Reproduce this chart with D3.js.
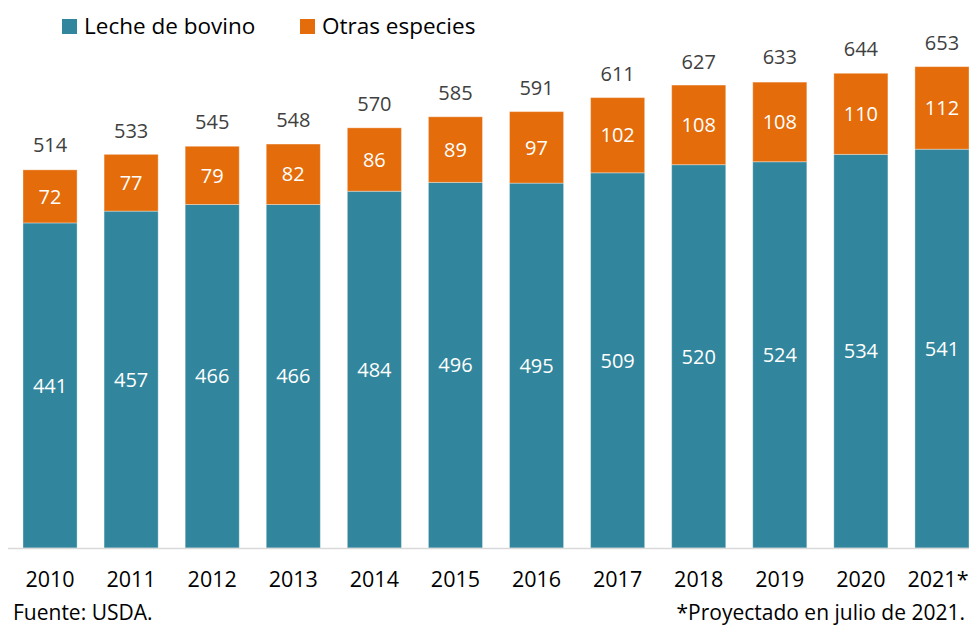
<!DOCTYPE html>
<html><head><meta charset="utf-8">
<script src="https://cdn.jsdelivr.net/npm/d3@7"></script>
<style>body{margin:0;background:#fff}svg{display:block;font-family:"Open Sans",sans-serif}</style>
</head><body>
<svg id="c" width="969" height="627"></svg>
<script>
const years = ["2010","2011","2012","2013","2014","2015","2016","2017","2018","2019","2020","2021*"];
const bovino = [441,457,466,466,484,496,495,509,520,524,534,541];
const otras = [72,77,79,82,86,89,97,102,108,108,110,112];
const totals = [514,533,545,548,570,585,591,611,627,633,644,653];
const seriesNames = ["Leche de bovino","Otras especies"];
const colors = ["#31859C","#E46C0A"];

const svg = d3.select("#c");
const x = d3.scaleBand().domain(years).range([9.5,982.5]).paddingInner(0.333).paddingOuter(0.1665);
const y = d3.scaleLinear().domain([0,700]).range([548,32]);

const data = years.map((yr,i)=>({year:yr,bov:bovino[i],otr:otras[i],tot:totals[i]}));
const stack = d3.stack().keys(["bov","otr"])(data);

stack.forEach((s,si)=>{
  svg.append("g").selectAll("rect").data(s).join("rect")
    .attr("x",d=>x(d.data.year)).attr("width",x.bandwidth())
    .attr("y",d=>y(d[1])).attr("height",d=>y(d[0])-y(d[1]))
    .attr("fill",colors[si]).attr("stroke","#ffffff").attr("stroke-opacity",0.35).attr("stroke-width",1);
  svg.append("g").selectAll("text").data(s).join("text")
    .attr("x",d=>x(d.data.year)+x.bandwidth()/2)
    .attr("y",d=>(y(d[0])+y(d[1]))/2)
    .attr("dy","0.36em").attr("text-anchor","middle")
    .attr("font-size",20).attr("fill","#fff")
    .text(d=>d[1]-d[0]);
});

svg.append("g").selectAll("text").data(data).join("text")
  .attr("x",d=>x(d.year)+x.bandwidth()/2)
  .attr("y",d=>y(d.tot)-17)
  .attr("text-anchor","middle").attr("font-size",20).attr("fill","#404040")
  .text(d=>d.tot);

// axis
const ax = svg.append("g").attr("transform","translate(0,548)").call(d3.axisBottom(x).tickSize(0).tickPadding(0));
ax.select(".domain").remove();
svg.append("line").attr("x1",8).attr("x2",969).attr("y1",548.5).attr("y2",548.5).attr("stroke","#D9D9D9").attr("stroke-width",1.5);
ax.selectAll("text").attr("y",39).attr("dy",0).attr("font-size",21.5).attr("fill","#000").attr("font-family","'Open Sans',sans-serif")
  .attr("x",(d,i)=> i===years.length-1 ? -4 : 0);

// legend
const leg = [{x:62,tx:84},{x:300,tx:322}];
seriesNames.forEach((n,i)=>{
  svg.append("rect").attr("x",leg[i].x).attr("y",19).attr("width",15).attr("height",15).attr("fill",colors[i]);
  svg.append("text").attr("x",leg[i].tx).attr("y",34).attr("font-size",22.5).attr("fill","#000").text(n);
});

svg.append("text").attr("x",13).attr("y",620).attr("font-size",21).attr("fill","#000").text("Fuente: USDA.");
svg.append("text").attr("x",965).attr("y",620).attr("text-anchor","end").attr("font-size",21).attr("fill","#000").text("*Proyectado en julio de 2021.");
</script>
</body></html>
